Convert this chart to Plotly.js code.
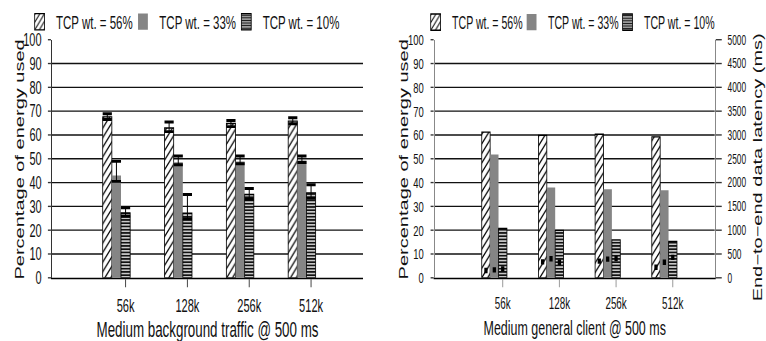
<!DOCTYPE html>
<html><head><meta charset="utf-8">
<script src="https://cdn.plot.ly/plotly-3.0.1.min.js"></script>
<style>
html,body{margin:0;padding:0;background:#fff;overflow:hidden;width:766px;height:341px}
#chart{width:934px;height:252px;transform:scale(0.820128,1.353175);transform-origin:0 0}
</style>
</head><body><div id="chart"></div>
<script>
// ---------- data ----------
const categories = ['56k', '128k', '256k', '512k'];
const seriesNames = ['TCP wt. = 56%', 'TCP wt. = 33%', 'TCP wt. = 10%'];

// Left chart: Medium background traffic @ 500 ms (percentage of energy used)
const bgEnergy56 = [67.6, 62.9, 64.8, 65.8];
const bgEnergy33 = [43.0, 48.5, 48.9, 49.3];
const bgEnergy10 = [27.3, 27.1, 35.0, 35.7];
const bgErrPlus56 = [1.3, 2.5, 1.3, 1.4];
const bgErrMinus56 = [1.1, 1.5, 1.3, 1.1];
const bgErrPlus33 = [5.9, 2.7, 2.3, 1.9];
const bgErrMinus33 = [2.5, 1.0, 1.0, 0.9];
const bgErrPlus10 = [2.1, 7.9, 2.5, 3.4];
const bgErrMinus10 = [1.4, 2.3, 2.0, 2.3];

// Right chart: Medium general client @ 500 ms
const gcEnergy56 = [61.2, 59.8, 60.3, 59.2];
const gcEnergy33 = [51.8, 37.9, 37.2, 36.8];
const gcEnergy10 = [20.7, 19.9, 15.9, 15.3];
const gcLatency56 = [152, 335, 350, 221];
const gcLatency33 = [167, 400, 392, 325];
const gcLatency10 = [187, 325, 405, 429];

// ---------- styling ----------
const FONT = '"Liberation Sans", Arial, sans-serif';
const SLOT_START = -0.37, BAR_W = 0.148;
const idx = categories.map((c, i) => i);
const slotCenter = s => idx.map(i => i + SLOT_START + (s + 0.5) * BAR_W);

const markers = [
  {color: '#fff', line: {color: '#000', width: 1},
   pattern: {shape: '/', fgcolor: '#000', bgcolor: '#fff', size: 5, solidity: 0.25}},
  {color: '#858585', line: {color: '#858585', width: 0}},
  {color: '#c8c8c8', line: {color: '#000', width: 1},
   pattern: {shape: '-', fgcolor: '#111', bgcolor: '#c8c8c8', size: 2.4, solidity: 0.5}}
];

const bgVals = [bgEnergy56, bgEnergy33, bgEnergy10];
const bgPlus = [bgErrPlus56, bgErrPlus33, bgErrPlus10];
const bgMinus = [bgErrMinus56, bgErrMinus33, bgErrMinus10];
const gcVals = [gcEnergy56, gcEnergy33, gcEnergy10];
const gcLat = [gcLatency56, gcLatency33, gcLatency10];

const traces = [];
for (let s = 0; s < 3; s++) {
  const t = {
    type: 'bar', name: seriesNames[s], x: idx, y: bgVals[s],
    width: BAR_W, offset: SLOT_START + s * BAR_W,
    xaxis: 'x', yaxis: 'y', legend: 'legend', marker: markers[s],
    error_y: {type: 'data', symmetric: false, array: bgPlus[s], arrayminus: bgMinus[s],
              color: '#000', thickness: 1.2, width: 0},
    hoverinfo: 'skip'
  };
  if (s === 2) t.legendwidth = 100;
  traces.push(t);
}
for (let s = 0; s < 3; s++) {
  const xc = slotCenter(s);
  traces.push({
    type: 'scatter', mode: 'markers', showlegend: false, hoverinfo: 'skip',
    x: xc.concat(xc),
    y: bgVals[s].map((v, i) => v + bgPlus[s][i]).concat(bgVals[s].map((v, i) => v - bgMinus[s][i])),
    xaxis: 'x', yaxis: 'y',
    marker: {symbol: 'line-ew', size: 8, color: '#000', line: {color: '#000', width: 2.2}}
  });
}
for (let s = 0; s < 3; s++) {
  const t = {
    type: 'bar', name: seriesNames[s], x: idx, y: gcVals[s],
    width: BAR_W, offset: SLOT_START + s * BAR_W,
    xaxis: 'x2', yaxis: 'y2', legend: 'legend2', marker: markers[s],
    hoverinfo: 'skip'
  };
  if (s === 2) t.legendwidth = 95;
  traces.push(t);
}
for (let s = 0; s < 3; s++) {
  traces.push({
    type: 'scatter', mode: 'markers', showlegend: false, hoverinfo: 'skip',
    x: slotCenter(s), y: gcLat[s], xaxis: 'x2', yaxis: 'y3',
    marker: {symbol: 'square', size: 4, color: '#000'}
  });
}

const yDomain = [0.1868, 0.8906];
const commonX = {
  type: 'linear', tickmode: 'array', tickvals: idx, ticktext: categories,
  ticks: 'outside', ticklen: 6, tickwidth: 1.2, showgrid: false, zeroline: false,
  showline: true, linecolor: '#000', linewidth: 1, automargin: false, fixedrange: true,
  ticklabelstandoff: 2
};
const commonY = {
  range: [0, 100], dtick: 10, tick0: 0, showgrid: true, gridcolor: '#111', gridwidth: 1,
  zeroline: false, showline: true, linewidth: 1.3, ticks: 'outside', ticklen: 3.7,
  tickcolor: '#333', automargin: false, fixedrange: true, domain: yDomain
};
const titleFont = {family: FONT, size: 14.8, color: '#111'};

const layout = {
  width: 934, height: 252,
  margin: {l: 0, r: 0, t: 0, b: 0},
  paper_bgcolor: '#fff', plot_bgcolor: '#fff',
  barmode: 'overlay', showlegend: true,
  font: {family: FONT, color: '#111'},
  xaxis: Object.assign({}, commonX, {
    domain: [52 / 766, 363 / 766], range: [-1.19, 3.84], anchor: 'y',
    tickcolor: '#444', tickfont: {family: FONT, size: 13.5, color: '#111'},
    title: {text: 'Medium background traffic @ 500 ms', font: {family: FONT, size: 16.3, color: '#111'}, standoff: 6}
  }),
  yaxis: Object.assign({}, commonY, {
    anchor: 'x', linecolor: '#333',
    tickfont: {family: FONT, size: 13.4, color: '#111'}, ticklabelstandoff: 5
  }),
  xaxis2: Object.assign({}, commonX, {
    domain: [434.7 / 766, 714.7 / 766], range: [-1.2, 3.74], anchor: 'y2',
    tickcolor: '#999', tickfont: {family: FONT, size: 12, color: '#111'},
    title: {text: 'Medium general client @ 500 ms', font: {family: FONT, size: 15.2, color: '#111'}, standoff: 6}
  }),
  yaxis2: Object.assign({}, commonY, {
    anchor: 'x2', linecolor: '#888',
    tickfont: {family: FONT, size: 11.5, color: '#111'}, ticklabelstandoff: 6
  }),
  yaxis3: {
    overlaying: 'y2', side: 'right', anchor: 'x2', range: [0, 5000], dtick: 500, tick0: 0,
    showgrid: false, zeroline: false, showline: true, linecolor: '#888', linewidth: 1.3,
    ticks: 'outside', ticklen: 7.3, tickcolor: '#333', automargin: false, fixedrange: true,
    tickfont: {family: FONT, size: 10.2, color: '#111'}, ticklabelstandoff: 5
  },
  annotations: [
    {text: 'Percentage of energy used', textangle: -90, xref: 'paper', yref: 'paper',
     x: 24.4 / 934, y: 0.539, xanchor: 'center', yanchor: 'middle', showarrow: false, font: titleFont},
    {text: 'Percentage of energy used', textangle: -90, xref: 'paper', yref: 'paper',
     x: 493.3 / 934, y: 0.539, xanchor: 'center', yanchor: 'middle', showarrow: false, font: titleFont},
    {text: 'End\u2212to\u2212end data latency (ms)', textangle: -90, xref: 'paper', yref: 'paper',
     x: 924 / 934, y: 0.513, xanchor: 'center', yanchor: 'middle', showarrow: false, font: titleFont}
  ],
  legend: {
    orientation: 'h', x: 0.0303, y: 0.9422, xanchor: 'left', yanchor: 'middle',
    font: {family: FONT, size: 14, color: '#111'}, bgcolor: 'rgba(0,0,0,0)',
    entrywidth: 81, entrywidthmode: 'pixels', borderwidth: 0
  },
  legend2: {
    orientation: 'h', x: 0.5473, y: 0.9422, xanchor: 'left', yanchor: 'middle',
    font: {family: FONT, size: 12.9, color: '#111'}, bgcolor: 'rgba(0,0,0,0)',
    entrywidth: 72, entrywidthmode: 'pixels', borderwidth: 0
  }
};

Plotly.newPlot('chart', traces, layout, {displayModeBar: false, staticPlot: true});
</script>
</body></html>
